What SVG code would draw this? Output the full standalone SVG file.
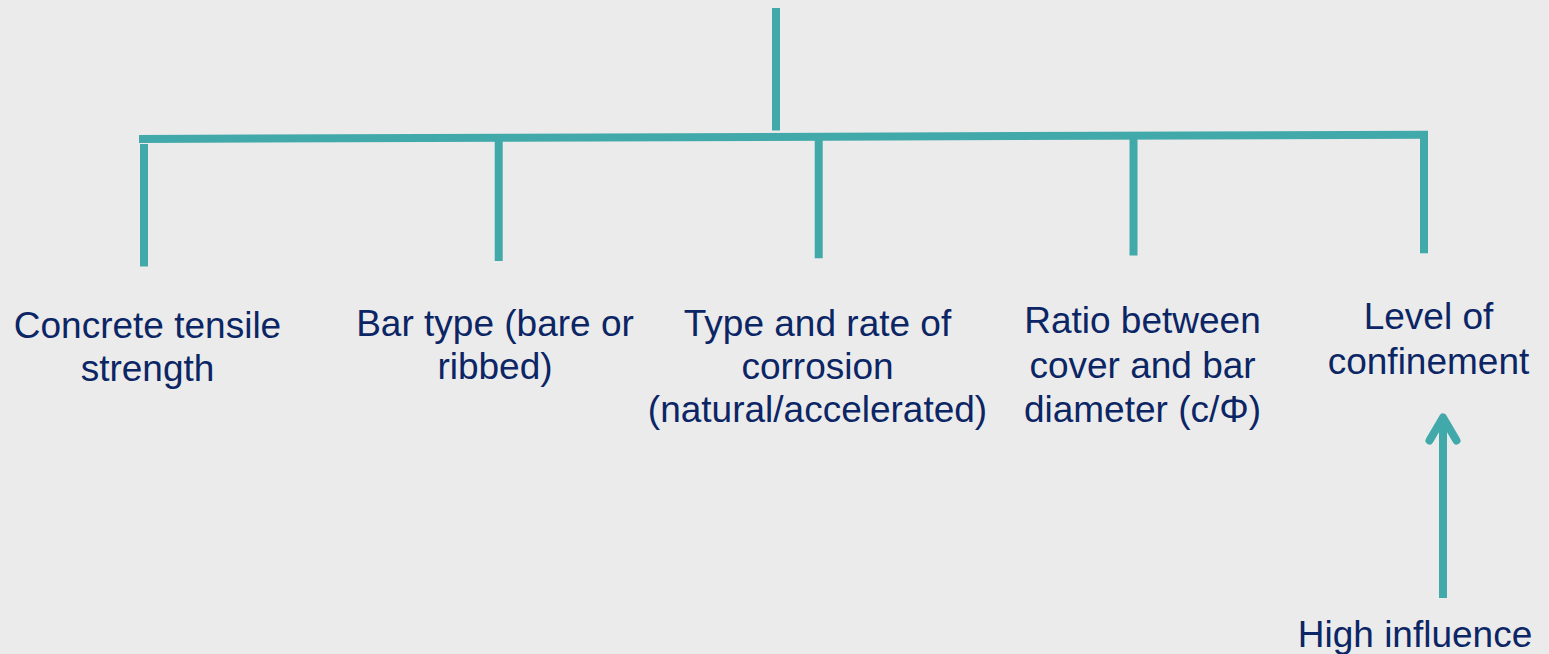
<svg xmlns="http://www.w3.org/2000/svg" width="1549" height="654" viewBox="0 0 1549 654">
<style>
.c{stroke:#42a9aa;stroke-width:8;fill:none}
.t{font-family:"Liberation Sans",Arial,sans-serif;font-size:37px;fill:#0b2565;text-anchor:middle}
</style>
<defs>
<marker id="arr" markerUnits="userSpaceOnUse" markerWidth="60" markerHeight="60" viewBox="-30 -30 60 60" refX="0" refY="0" orient="auto" overflow="visible">
<path d="M-23,-13.5 L0,0 L-23,13.5" fill="none" stroke="#42a9aa" stroke-width="8" stroke-linecap="round" stroke-linejoin="round"/>
</marker>
</defs>
<rect width="1549" height="654" fill="#ebebeb"/>
<g id="connectors">
<line class="c" x1="776" y1="8" x2="776" y2="130.5"/>
<line class="c" x1="139" y1="139" x2="1428" y2="134.7"/>
<line class="c" x1="144" y1="144" x2="144" y2="266.5"/>
<line class="c" x1="498.7" y1="141" x2="498.7" y2="261"/>
<line class="c" x1="818.7" y1="140" x2="818.7" y2="258.3"/>
<line class="c" x1="1133.5" y1="139" x2="1133.5" y2="255.5"/>
<line class="c" x1="1424" y1="131" x2="1424" y2="253.3"/>
<line class="c" x1="1443" y1="598" x2="1443" y2="417.5" marker-end="url(#arr)"/>
</g>
<g id="n1"><text class="t" x="147.5"><tspan x="147.5" y="337.5">Concrete tensile</tspan><tspan x="147.5" y="381">strength</tspan></text></g>
<g id="n2"><text class="t" x="495"><tspan x="495" y="336">Bar type (bare or</tspan><tspan x="495" y="379">ribbed)</tspan></text></g>
<g id="n3"><text class="t" x="817.5"><tspan x="817.5" y="336">Type and rate of</tspan><tspan x="817.5" y="379">corrosion</tspan><tspan x="817.5" y="422">(natural/accelerated)</tspan></text></g>
<g id="n4"><text class="t" x="1142.5"><tspan x="1142.5" y="333">Ratio between</tspan><tspan x="1142.5" y="377.5">cover and bar</tspan><tspan x="1142.5" y="422">diameter (c/Φ)</tspan></text></g>
<g id="n5"><text class="t" x="1428.5"><tspan x="1428.5" y="329">Level of</tspan><tspan x="1428.5" y="373.5">confinement</tspan></text></g>
<g id="n6"><text class="t" x="1415" y="647">High influence</text></g>
</svg>
